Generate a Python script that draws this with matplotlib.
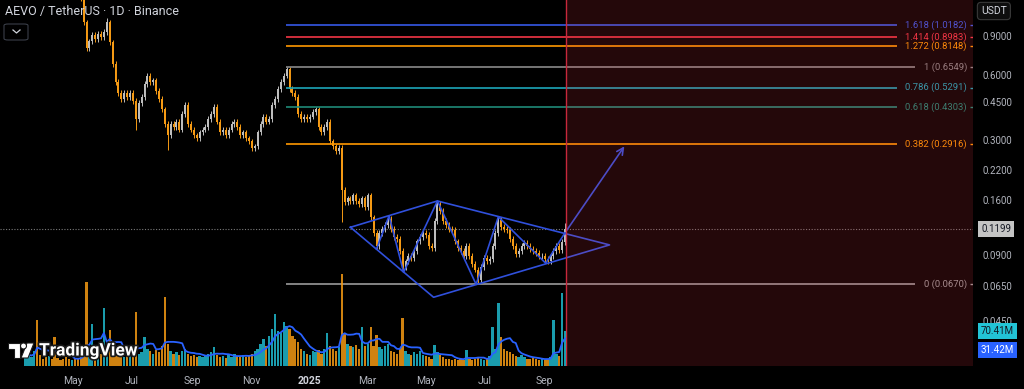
import matplotlib
matplotlib.use("Agg")
import matplotlib.pyplot as plt
import matplotlib.dates as mdates
import matplotlib.patches as patches
import matplotlib.patheffects as pe
import matplotlib.transforms as mtransforms
from matplotlib.lines import Line2D
from matplotlib.ticker import NullLocator
import numpy as np
import pandas as pd

plt.rcParams['font.family'] = ['Roboto', 'DejaVu Sans']

# AEVO / USDT, one candle every 3 days
start_date = "2024-03-13"
first_open = 2.4
closes = [
    2.6, 3.1, 3.5, 3.7, 3.3, 3.0, 2.7, 2.5, 2.6, 2.3, 2.0, 1.85, 1.7, 1.6, 1.55, 1.45, 1.5, 1.45, 1.4, 1.35,
    1.05, 0.80, 0.86, 0.92, 0.88, 0.93, 0.90, 0.95, 1.05, 0.85, 0.68, 0.56, 0.50, 0.47, 0.50, 0.48, 0.50, 0.46, 0.38, 0.45,
    0.48, 0.55, 0.60, 0.56, 0.57, 0.51, 0.47, 0.42, 0.36, 0.32, 0.36, 0.35, 0.37, 0.34, 0.40, 0.44, 0.36, 0.34, 0.32, 0.31,
    0.33, 0.34, 0.35, 0.38, 0.40, 0.43, 0.37, 0.33, 0.34, 0.32, 0.34, 0.36, 0.37, 0.35, 0.32, 0.33, 0.31, 0.30, 0.28, 0.285,
    0.33, 0.36, 0.39, 0.37, 0.38, 0.44, 0.47, 0.52, 0.56, 0.60, 0.64, 0.52, 0.50, 0.48, 0.40, 0.38, 0.39, 0.38, 0.39, 0.41,
    0.42, 0.35, 0.33, 0.35, 0.37, 0.30, 0.285, 0.27, 0.28, 0.18, 0.158, 0.165, 0.16, 0.17, 0.16, 0.155, 0.165, 0.15, 0.17, 0.135,
    0.115, 0.10, 0.115, 0.12, 0.125, 0.133, 0.12, 0.11, 0.108, 0.095, 0.08, 0.085, 0.09, 0.088, 0.095, 0.105, 0.11, 0.115, 0.112, 0.10,
    0.098, 0.13, 0.155, 0.145, 0.13, 0.125, 0.12, 0.118, 0.105, 0.098, 0.095, 0.09, 0.10, 0.09, 0.083, 0.078, 0.07, 0.08, 0.088, 0.085,
    0.087, 0.10, 0.115, 0.132, 0.122, 0.12, 0.118, 0.108, 0.10, 0.092, 0.095, 0.10, 0.103, 0.10, 0.097, 0.095, 0.093, 0.09, 0.09, 0.087,
    0.085, 0.09, 0.095, 0.10, 0.096, 0.104, 0.1199,
]
spike_highs = {28: 1.10, 90: 0.655, 142: 0.161, 163: 0.136, 186: 0.127}
spike_lows = {38: 0.34, 49: 0.275, 79: 0.27, 109: 0.128, 121: 0.097, 130: 0.076, 156: 0.067}

# volume in millions
volumes = [
    20, 25, 18, 30, 92, 22, 15, 18, 20, 14, 58, 16, 12, 14, 18, 15, 12, 16, 14, 18,
    40, 168, 30, 84, 22, 18, 25, 116, 40, 72, 35, 28, 20, 22, 18, 25, 20, 30, 108, 25,
    28, 58, 35, 30, 25, 32, 28, 40, 138, 45, 30, 25, 28, 22, 30, 35, 25, 20, 22, 18,
    20, 18, 22, 25, 28, 38, 22, 18, 20, 16, 22, 18, 25, 20, 18, 22, 18, 20, 25, 30,
    35, 45, 55, 40, 60, 75, 104, 70, 66, 88, 80, 75, 60, 55, 48, 35, 30, 25, 22, 30,
    28, 32, 25, 35, 66, 40, 35, 30, 38, 184, 66, 45, 40, 38, 42, 35, 78, 40, 45, 78,
    40, 62, 38, 35, 40, 45, 30, 28, 25, 35, 96, 30, 25, 22, 28, 25, 30, 22, 20, 18,
    15, 42, 28, 22, 18, 15, 14, 12, 15, 12, 14, 13, 32, 14, 12, 15, 18, 14, 12, 15,
    20, 78, 35, 126, 58, 35, 30, 28, 25, 20, 18, 22, 18, 15, 14, 16, 14, 12, 14, 12,
    15, 18, 92, 25, 20, 146, 70.41,
]
vol_ma_label = 31.42

# Fibonacci retracement drawn from the Dec 2024 high to the Jun 2025 low
fib_low = 0.0670
fib_high = 0.6549
fib_start = "2024-12-07"
fib_ratios = [0, 0.382, 0.618, 0.786, 1, 1.272, 1.414, 1.618]
fib_names = ["0", "0.382", "0.618", "0.786", "1", "1.272", "1.414", "1.618"]
fib_colors = ['#9a9a9a', '#ff9800', '#1f8a78', '#1ca6b8', '#8a8a8a', '#ff9800', '#f23645', '#3558e6']

# diamond pattern drawing
diamond_outline = [("2025-02-12", 0.1217), ("2025-05-13", 0.1605), ("2025-11-07", 0.1011),
                   ("2025-05-09", 0.0583), ("2025-02-12", 0.1217)]
zigzag = [("2025-03-11", 0.0969), ("2025-03-24", 0.1374), ("2025-04-08", 0.0758), ("2025-05-13", 0.1605),
          ("2025-06-22", 0.0668), ("2025-07-15", 0.1359), ("2025-09-02", 0.0834), ("2025-09-22", 0.1149)]
arrow_tip = ("2025-11-24", 0.292)
future_start = "2025-09-23"

month_ticks = ["2024-05-01", "2024-07-01", "2024-09-01", "2024-11-01", "2025-01-01",
               "2025-03-01", "2025-05-01", "2025-07-01", "2025-09-01"]
month_labels = ["May", "Jul", "Sep", "Nov", "2025", "Mar", "May", "Jul", "Sep"]
price_ticks = [0.045, 0.065, 0.09, 0.16, 0.22, 0.3, 0.45, 0.6, 0.9]

UP = '#bdbdbd'
DOWN = '#f59a14'
VOL_UP = '#1fb8cc'
VOL_DOWN = '#f59a14'
TXT = '#b2b5be'

W, H = 1024, 389


def px(x, y):
    return x / W, 1 - y / H


def d2n(s):
    return mdates.date2num(pd.Timestamp(s))


n = len(closes)
dates = pd.date_range(start_date, periods=n, freq="3D")
xd = mdates.date2num(dates)
c = np.array(closes)
o = np.concatenate([[first_open], c[:-1]])
hi = np.maximum(o, c) * 1.03
lo = np.minimum(o, c) * 0.97
for k, v in spike_highs.items():
    hi[k] = v
for k, v in spike_lows.items():
    lo[k] = v
up = c >= o

fig = plt.figure(figsize=(W / 100, H / 100), dpi=100, facecolor='black')
ax = fig.add_axes([0, 1 - 366 / H, 973 / W, 366 / H])
ax.set_facecolor('black')
ax.set_yscale('log')
ax.set_ylim(0.0283, 1.328)
ax.set_xlim(d2n("2024-02-15 12:00"), d2n("2026-11-18"))
x0, x1 = ax.get_xlim()


def ax_frac(f):
    return x0 + f * (x1 - x0)


for s in ax.spines.values():
    s.set_visible(False)

# candles
cols = np.where(up, UP, DOWN)
ax.vlines(xd, lo, hi, colors=cols, lw=0.7, zorder=2)
ax.bar(xd, np.abs(c - o), bottom=np.minimum(o, c), width=2.0, color=cols, lw=0, zorder=3)

# current price line
ax.axhline(c[-1], color='#7a7a7a', lw=0.8, ls=(0, (1, 1.5)), zorder=1)

# fib levels
blend = mtransforms.blended_transform_factory(ax.transAxes, ax.transData)
for r, name, col in zip(fib_ratios, fib_names, fib_colors):
    p = fib_low + r * (fib_high - fib_low)
    end = 0.940 if name in ("0", "1") else 0.922
    ax.hlines(p, d2n(fib_start), ax_frac(end), colors=col, lw=1.2, zorder=4)
    ax.text(0.9938, p, f"{name} ({p:.4f})", transform=blend, ha='right', va='center',
            color=col, fontsize=6.8, zorder=4)
    ax.hlines(p, ax_frac(0.9965), x1, colors=col, lw=1.0, zorder=4)

# diamond pattern
BLUE = '#3050dc'
ax.plot([d2n(d) for d, _ in diamond_outline], [v for _, v in diamond_outline], color=BLUE, lw=1.2, zorder=4)
ax.plot([d2n(d) for d, _ in zigzag], [v for _, v in zigzag], color=BLUE, lw=1.2, zorder=4)
ax.annotate("", xy=(d2n(arrow_tip[0]), arrow_tip[1]), xytext=(d2n(zigzag[-1][0]), zigzag[-1][1]),
            arrowprops=dict(arrowstyle='->', color=BLUE, lw=1.2, mutation_scale=12), zorder=4)

# future zone
ax.axvspan(d2n(future_start), x1, color='#f23645', alpha=0.15, lw=0, zorder=5)
ax.axvline(d2n(future_start), color='#c8283c', lw=1.0, zorder=6)

# price scale on the right, written as texts
ax.set_yticks([])
ax.yaxis.set_minor_locator(NullLocator())
for v in price_ticks:
    ax.text(1 + 9 / 973, v, f"{v:.4f}", transform=blend, ha='left', va='center',
            color=TXT, fontsize=7, clip_on=False)

ax.set_xticks([d2n(t) for t in month_ticks])
ax.set_xticklabels(month_labels)
ax.tick_params(axis='x', length=0, pad=7, labelcolor=TXT, labelsize=7.5, labeltop=False)
for lab in ax.get_xticklabels():
    if lab.get_text() == "2025":
        lab.set_fontweight('bold')
        lab.set_color('#d1d4dc')

# volume
axv = ax.twinx()
axv.set_ylim(0, 732)
axv.set_yticks([])
for s in axv.spines.values():
    s.set_visible(False)
vcols = np.where(up, VOL_UP, VOL_DOWN)
axv.bar(xd, volumes, width=2.4, color=vcols, alpha=0.85, lw=0)
vol_ma = pd.Series(volumes).rolling(7, min_periods=1).mean()
axv.plot(xd, vol_ma, color='#2962ff', lw=1.3)

vblend = mtransforms.blended_transform_factory(axv.transAxes, axv.transData)
axv.text(1 + 8 / 973, volumes[-1], f"{volumes[-1]:.2f}M", transform=vblend, va='center', ha='left',
         color='#131722', fontsize=7, clip_on=False,
         bbox=dict(boxstyle='square,pad=0.3', fc='#22c3d6', ec='none'))
axv.text(1 + 8 / 973, vol_ma_label, f"{vol_ma_label:.2f}M", transform=vblend, va='center', ha='left',
         color='white', fontsize=7, clip_on=False,
         bbox=dict(boxstyle='square,pad=0.3', fc='#2962ff', ec='none'))

# last price tag
ax.text(1 + 8 / 973, c[-1], f"{c[-1]:.4f}", transform=blend, va='center', ha='left',
        color='#131722', fontsize=7, clip_on=False, zorder=10,
        bbox=dict(boxstyle='square,pad=0.3', fc='#c4c4c4', ec='none'))

# header
fig.text(*px(5, 11), "AEVO / TetherUS · 1D · Binance", color='#d1d4dc', fontsize=9, va='center')
fig.add_artist(patches.FancyBboxPatch(px(4, 40), 24 / W, 16 / H, boxstyle='round,pad=0,rounding_size=0.004',
                                      transform=fig.transFigure, fc='none', ec='#3a3e48', lw=0.8))
cx, cy = zip(px(13, 30), px(16.5, 33), px(20, 30))
fig.add_artist(Line2D(cx, cy, color='#d1d4dc', lw=0.9, transform=fig.transFigure))
fig.text(*px(981, 11), "USDT", color='#d1d4dc', fontsize=7.5, va='center', ha='left',
         bbox=dict(boxstyle='round,pad=0.35', fc='#0e0e0e', ec='#3a3a3a', lw=0.8))

# TradingView mark
halo = [pe.withStroke(linewidth=2.5, foreground='#1a1a1a')]
logo1 = patches.Polygon([px(8, 343), px(20, 343), px(20, 358), px(14, 358), px(14, 349), px(8, 349)],
                        closed=True, transform=fig.transFigure, fc='white', ec='#1a1a1a', lw=0.8)
logo2 = patches.Polygon([px(27, 343), px(34, 343), px(28, 358), px(21, 358)],
                        closed=True, transform=fig.transFigure, fc='white', ec='#1a1a1a', lw=0.8)
dot = patches.Ellipse(px(23.5, 346), 6 / W, 6 / H, transform=fig.transFigure, fc='white', ec='#1a1a1a', lw=0.8)
for a in (logo1, logo2, dot):
    fig.add_artist(a)
fig.text(*px(39, 351), "TradingView", color='white', fontsize=12.5, fontweight='bold', va='center',
         path_effects=halo)

fig.savefig("out.png", dpi=100, facecolor='black')
